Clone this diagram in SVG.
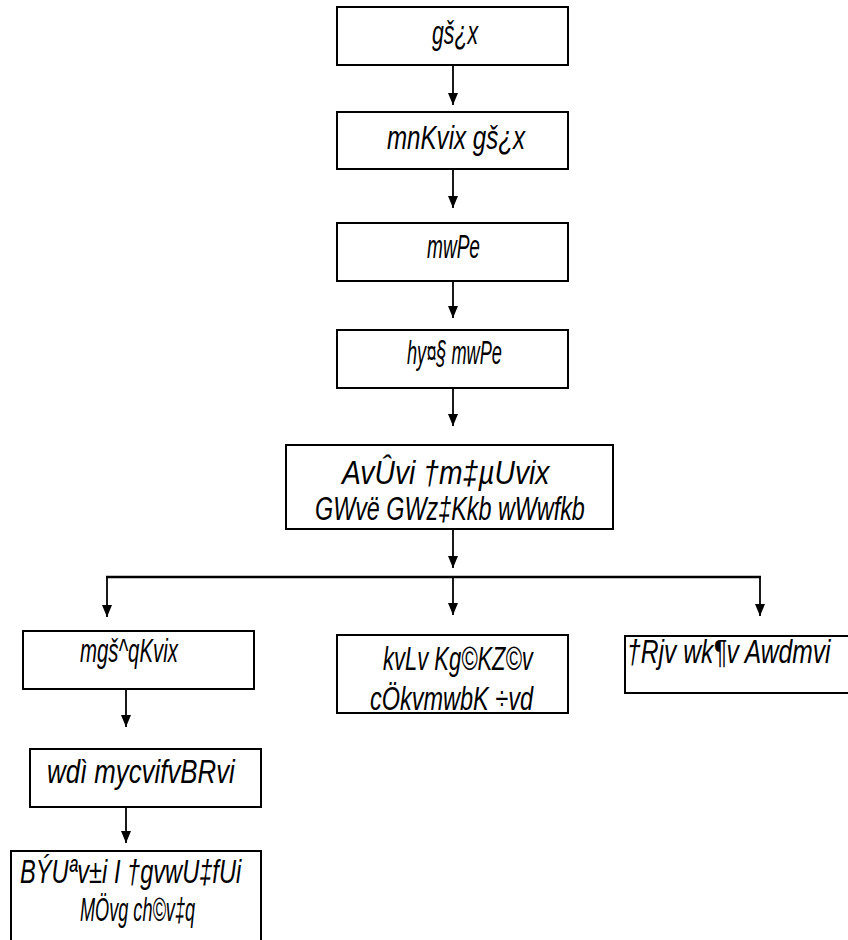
<svg xmlns="http://www.w3.org/2000/svg" width="848" height="940" viewBox="0 0 848 940">
<style>
.box{fill:#ffffff;stroke:#000000;stroke-width:2}
.t{font-family:"Liberation Sans",Arial,sans-serif;font-style:italic;font-size:34px;fill:#000000}
.c{stroke:#000000;stroke-width:1.8;fill:none}
.a{marker-end:url(#ah)}
</style>
<defs>
<marker id="ah" viewBox="0 0 12 10" refX="12" refY="5" markerWidth="12" markerHeight="10" markerUnits="userSpaceOnUse" orient="auto">
<path d="M0,0 L12,5 L0,10 z" fill="#000000"/>
</marker>
</defs>
<rect width="848" height="940" fill="#ffffff"/>
<g id="connectors">
<line class="c a" x1="453" y1="65" x2="453" y2="105"/>
<line class="c a" x1="453" y1="169" x2="453" y2="208"/>
<line class="c a" x1="453" y1="281" x2="453" y2="318"/>
<line class="c a" x1="453" y1="388" x2="453" y2="426"/>
<line class="c a" x1="453" y1="529" x2="453" y2="568"/>
<line class="c" x1="106" y1="577" x2="761" y2="577" style="stroke-width:2.5"/>
<line class="c a" x1="107" y1="577" x2="107" y2="617"/>
<line class="c a" x1="453" y1="577" x2="453" y2="615"/>
<line class="c a" x1="760" y1="577" x2="760" y2="616"/>
<line class="c a" x1="126" y1="689" x2="126" y2="727"/>
<line class="c a" x1="126" y1="807" x2="126" y2="843"/>
</g>
<g id="n1"><rect class="box" x="337" y="7" width="231" height="58"/><text class="t" transform="translate(432,44) scale(0.625,1)">gš¿x</text></g>
<g id="n2"><rect class="box" x="337" y="112" width="231" height="57"/><text class="t" transform="translate(387,149) scale(0.71,1)">mnKvix gš¿x</text></g>
<g id="n3"><rect class="box" x="337" y="223" width="231" height="58"/><text class="t" transform="translate(427,258) scale(0.561,1)">mwPe</text></g>
<g id="n4"><rect class="box" x="337" y="330" width="231" height="58"/><text class="t" transform="translate(407,364) scale(0.535,1)">hy¤§ mwPe</text></g>
<g id="n5"><rect class="box" x="286" y="445" width="327" height="84"/><text class="t" transform="translate(342,484) scale(0.832,1)">AvÛvi †m‡µUvix</text><text class="t" transform="translate(315,520) scale(0.687,1)">GWvë GWz‡Kkb wWwfkb</text></g>
<g id="n6"><rect class="box" x="23" y="631" width="231" height="58"/><text class="t" transform="translate(80,662) scale(0.6,1)">mgš^qKvix</text></g>
<g id="n7"><rect class="box" x="337" y="635" width="231" height="78"/><text class="t" transform="translate(383,670) scale(0.647,1)">kvLv Kg©KZ©v</text><text class="t" transform="translate(370,710) scale(0.691,1)">cÖkvmwbK ÷vd</text></g>
<g id="n8"><rect class="box" x="625" y="636" width="231" height="57"/><text class="t" transform="translate(627,663) scale(0.725,1)">†Rjv wk¶v Awdmvi</text></g>
<g id="n9"><rect class="box" x="30" y="749" width="231" height="58"/><text class="t" transform="translate(47,783) scale(0.759,1)">wdì mycvifvBRvi</text></g>
<g id="n10"><rect class="box" x="11" y="851" width="250" height="100"/><text class="t" transform="translate(20,883) scale(0.695,1)">BÝUªv±i I †gvwU‡fUi</text><text class="t" transform="translate(80,921) scale(0.533,1)">MÖvg ch©v‡q</text></g>
</svg>
